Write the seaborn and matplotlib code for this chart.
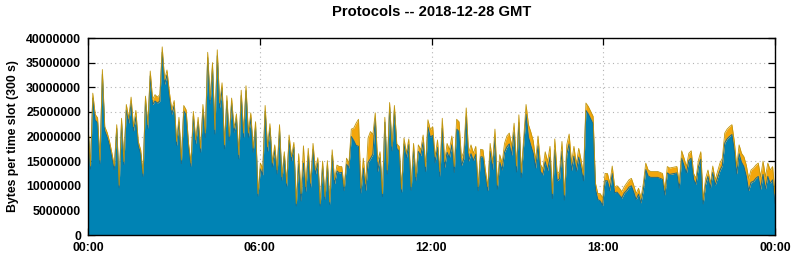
import numpy as np
import pandas as pd
import matplotlib
matplotlib.use("Agg")
import matplotlib.pyplot as plt
import seaborn as sns
from matplotlib.ticker import FuncFormatter

# ---- data (values in millions of bytes per 5-minute slot) ----
# total height of the stack (top edge), one value per 300 s slot
total_00_06 = [
    22.4, 14, 28.8, 24.5, 23.8, 15.2, 33.6, 22, 20.8, 19, 16.6, 14,
    22.4, 10.1, 23.7, 14.9, 26.5, 23.7, 28, 22, 25.3, 19, 17.3, 12.5,
    28.2, 22.4, 33.3, 27.5, 28.5, 28, 28.5, 38.2, 31.6, 33.5, 29, 25.4,
    27.3, 19, 23.9, 15.2, 26.3, 25.4, 18.6, 14.6, 25.1, 19.3, 23.9, 17.6,
    26.5, 20.7, 37.1, 27.5, 35, 21.4, 37.6, 26.8, 30.9, 18.3, 28.3, 20,
    27.8, 21.7, 24.6, 16.3, 29.4, 20.7, 30.3, 20.7, 24.8, 17.6, 23, 8.4,
]
total_06_12 = [
    14.6, 13.5, 26.3, 17.9, 22.6, 14.6, 18.3, 13.2, 22.4, 11.8, 16.9, 10.5,
    20.3, 15.9, 18.8, 6.4, 16.5, 8.4, 18.1, 9.8, 17.6, 10.5, 18.6, 13.2,
    15.7, 6.4, 15, 7.8, 15.1, 6.7, 17.3, 11.2, 14.2, 13.9, 13.9, 9.8,
    15.6, 14.6, 21.5, 21.7, 22.7, 23.5, 9.5, 15.6, 10.5, 19.7, 21, 20.4,
    24.8, 14.9, 16.9, 8.4, 23.9, 13.2, 26.9, 18, 26.3, 18.5, 18, 9.3,
    19.7, 16.6, 19.5, 9.8, 18.6, 11.8, 18.3, 17.3, 20.3, 13.9, 23.4, 21.4,
]
total_12_18 = [
    22, 15.9, 19.3, 12.9, 23.7, 14.9, 18.6, 17.3, 20.1, 13.9, 23.5, 23,
    15.6, 17, 25.8, 16.6, 18.3, 16.6, 18, 9.8, 17.4, 17.3, 13.2, 9.8,
    18.6, 14.6, 21.5, 10.1, 16.3, 14.6, 18.6, 20.1, 20.7, 18, 22.7, 14,
    24.4, 12.7, 19.7, 26.5, 22.4, 20.9, 19.1, 15.1, 20.1, 14.4, 13.4, 16.9,
    14.9, 18, 8.4, 19.5, 12.5, 12.9, 19, 8.1, 18.3, 20.5, 14.6, 18,
    14.4, 17.6, 15.2, 12.2, 26.8, 26.1, 25.1, 24.1, 10.5, 8.4, 8.4, 7.5,
]
total_18_24 = [
    12.5, 12.5, 10.5, 14, 9.8, 10, 9.5, 8.8, 9.8, 10.5, 11.2, 11.5,
    10.1, 8.4, 9.5, 7.5, 10.5, 14.6, 13.2, 12.9, 12.9, 12.9, 12.9, 12.7,
    12.5, 9.1, 13.9, 13.6, 13.7, 13.8, 13.9, 10.5, 17.1, 15.6, 13.9, 16.6,
    17.1, 12.5, 11.5, 15.2, 16.9, 7.1, 11.5, 13.2, 10.5, 14, 11.2, 12.9,
    14.6, 15.6, 20.7, 21.5, 22, 22.4, 19, 13.9, 18.3, 16.6, 15.9, 14.2,
    11.5, 13.2, 13.6, 14.2, 14.6, 11.8, 15, 11.8, 14.6, 13.2, 13.9, 8.4,
]

# thickness of the orange (upper) protocol layer
other_00_06 = [
    0.8, 0.6, 1.0, 1.2, 1.0, 0.7, 1.0, 0.8, 0.9, 0.8, 0.9, 0.7,
    0.8, 0.5, 0.9, 0.6, 1.1, 1.0, 1.2, 0.9, 1.3, 0.9, 0.8, 0.6,
    1.0, 0.8, 1.0, 1.0, 1.3, 1.2, 1.3, 1.1, 1.0, 1.0, 1.0, 0.9,
    1.0, 0.8, 1.0, 0.7, 1.1, 1.0, 0.8, 0.7, 1.0, 0.8, 1.0, 0.8,
    1.1, 0.9, 1.1, 1.0, 1.0, 0.9, 1.2, 1.0, 1.1, 0.8, 1.1, 0.8,
    1.0, 0.9, 1.0, 0.8, 1.1, 0.9, 1.0, 0.9, 1.0, 0.8, 1.0, 0.5,
]
other_06_12 = [
    1.2, 1.3, 1.2, 0.9, 1.0, 0.8, 1.0, 0.8, 1.1, 0.7, 0.9, 0.6,
    1.1, 0.9, 1.0, 0.5, 2.0, 1.5, 3.5, 1.0, 1.5, 0.8, 1.2, 0.9,
    1.0, 0.5, 1.0, 0.6, 1.0, 0.5, 1.1, 0.8, 1.2, 1.3, 1.2, 0.8,
    1.2, 1.0, 1.5, 2.5, 4.5, 5.5, 1.0, 2.0, 1.5, 5.0, 5.5, 4.0,
    1.2, 2.0, 1.2, 0.6, 1.0, 0.8, 1.0, 0.9, 1.0, 0.9, 1.0, 0.6,
    1.2, 1.0, 1.1, 0.7, 1.2, 0.8, 1.3, 1.2, 1.5, 1.0, 1.5, 1.5,
]
other_12_18 = [
    1.8, 1.2, 1.5, 1.0, 2.0, 1.2, 1.8, 1.6, 1.8, 1.2, 2.0, 2.0,
    1.5, 1.5, 1.8, 1.6, 1.8, 1.5, 1.6, 0.8, 1.5, 1.5, 1.2, 0.8,
    1.6, 1.3, 1.8, 0.8, 1.5, 1.4, 1.8, 2.2, 2.2, 1.8, 1.8, 1.2,
    1.6, 1.0, 1.5, 2.0, 2.5, 2.7, 2.5, 1.5, 2.0, 1.5, 1.2, 2.0,
    1.8, 2.2, 1.0, 2.2, 1.5, 1.5, 2.0, 1.0, 2.0, 2.0, 1.5, 2.0,
    1.5, 1.8, 1.6, 1.2, 1.5, 1.5, 1.5, 1.5, 1.2, 1.2, 1.5, 1.5,
]
other_18_24 = [
    1.5, 1.5, 1.5, 1.5, 1.2, 1.3, 1.4, 1.3, 1.3, 1.5, 1.5, 1.5,
    1.4, 1.2, 1.2, 1.0, 1.3, 1.3, 1.2, 1.2, 1.2, 1.2, 1.2, 1.2,
    1.2, 1.0, 1.3, 1.3, 1.3, 1.3, 1.3, 1.0, 1.5, 1.5, 1.3, 1.5,
    1.5, 1.2, 1.2, 1.4, 1.5, 0.8, 1.2, 1.3, 1.0, 1.3, 1.1, 1.3,
    1.5, 1.5, 2.0, 2.0, 2.0, 2.0, 1.8, 1.5, 1.8, 1.8, 2.0, 2.2,
    2.5, 2.5, 2.7, 2.7, 2.7, 2.5, 2.7, 2.5, 2.7, 2.7, 2.7, 2.0,
]

x_tick_hours = [0, 6, 12, 18, 24]
x_tick_labels = ["00:00", "06:00", "12:00", "18:00", "00:00"]
y_ticks = [0, 5e6, 10e6, 15e6, 20e6, 25e6, 30e6, 35e6, 40e6]
title = "Protocols -- 2018-12-28 GMT"
y_label = "Bytes per time slot (300 s)"

# ---- build frame ----
total = np.array(total_00_06 + total_06_12 + total_12_18 + total_18_24) * 1e6
other = np.array(other_00_06 + other_06_12 + other_12_18 + other_18_24) * 1e6
df = pd.DataFrame({
    "hour": np.linspace(0, 24, total.size),
    "total": total,
})
df["main"] = df["total"] - other

BLUE = "#0083b4"
BLUE_EDGE = "#1c6a86"
ORANGE = "#f2a60c"
ORANGE_EDGE = "#c0960e"

sns.set_style("ticks")
plt.rcParams["font.family"] = ["Liberation Sans", "DejaVu Sans"]
plt.rcParams["font.weight"] = "bold"
plt.rcParams["text.color"] = "black"
plt.rcParams["axes.labelcolor"] = "black"

W, H = 795, 260
fig = plt.figure(figsize=(W / 100, H / 100), dpi=100)
ax = fig.add_axes([88 / W, 1 - 235 / H, 687 / W, 197 / H])

ax.fill_between(df["hour"], 0, df["main"], color=BLUE, lw=0, zorder=2)
ax.fill_between(df["hour"], df["main"], df["total"], color=ORANGE, lw=0, zorder=2)
sns.lineplot(data=df, x="hour", y="main", color=BLUE_EDGE, lw=0.7,
             estimator=None, ax=ax, zorder=3)
sns.lineplot(data=df, x="hour", y="total", color=ORANGE_EDGE, lw=0.6,
             estimator=None, ax=ax, zorder=3)

ax.set_xlim(0, 24)
ax.set_ylim(0, 40e6)
ax.set_xticks(x_tick_hours)
ax.set_xticklabels(x_tick_labels)
ax.set_yticks(y_ticks)
ax.yaxis.set_major_formatter(FuncFormatter(lambda v, p: f"{int(round(v))}"))

ax.set_axisbelow(True)
ax.grid(True, color="#b4b4b4", lw=0.8, ls=(0, (1, 3)), zorder=0)
ax.tick_params(direction="in", top=True, right=True, length=5, width=0.9,
               labelsize=8.8, pad=5, colors="black")
for lab in ax.get_xticklabels() + ax.get_yticklabels():
    lab.set_fontweight("bold")
for s in ax.spines.values():
    s.set_linewidth(1.0)
    s.set_color("black")
    s.set_zorder(5)

ax.set_xlabel("")
ax.set_ylabel(y_label, fontsize=8.8, fontweight="bold", color="black")
ax.yaxis.set_label_coords(-(88 - 19) / 687, 0.5)

fig.text(431.5 / W, 1 - 12 / H, title, ha="center", va="center",
         fontsize=10.6, fontweight="bold", color="black")

fig.savefig("out.png", dpi=100)
